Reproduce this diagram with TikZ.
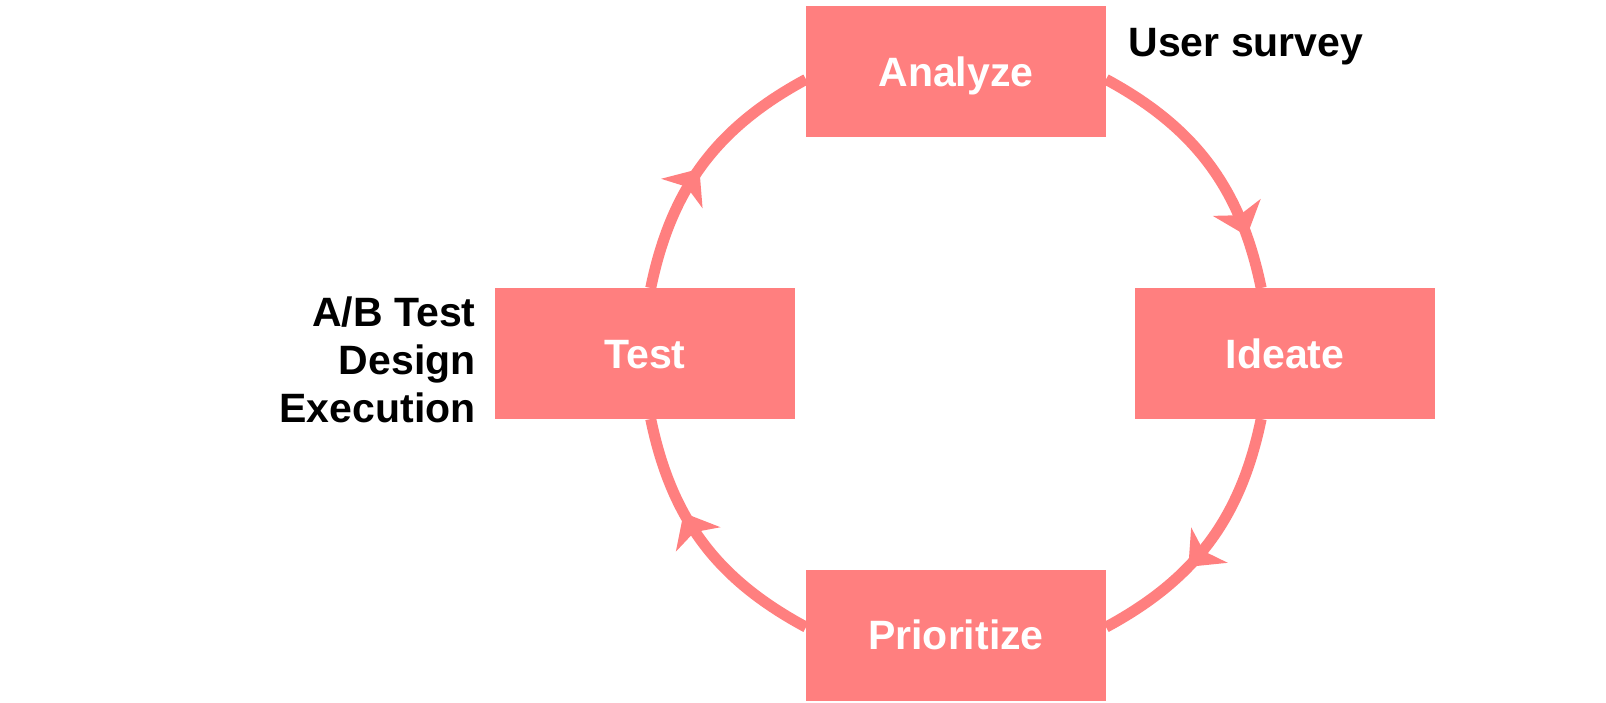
\documentclass[tikz,border=0pt]{standalone}
\usepackage{fontspec}
\setmainfont{Liberation Sans}
\usetikzlibrary{arrows.meta,decorations.markings,positioning}
\definecolor{salmon}{HTML}{FF7F7F}
\tikzset{>={Stealth[length=15pt,width=25pt,inset=4pt]}}
\tikzset{%
    arrowat/.style={postaction={decorate},decoration={%
            markings,mark=at position #1 with {\arrow{>}}%
        }%
    },%
    arrowat/.default=.5%
}
\tikzset{stage/.style={fill=salmon, text=white, minimum width=150pt, minimum height=65.5pt,
    inner sep=0pt, outer sep=0pt, text height=14.7pt, text depth=0pt,
    font=\fontsize{20.5}{24}\selectfont\bfseries}}
\tikzset{note/.style={inner sep=0pt, font=\fontsize{20.5}{24}\selectfont\bfseries}}

\begin{document}
\begin{tikzpicture}[x=0.5pt,y=0.5pt,line width=5.5pt]
      \useasboundingbox (0,0) rectangle (1606,702);
      \node[stage] (analyze) at (956,630.5) {Analyze};
      \node[stage] (ideate) at (1285,348.5) {Ideate};
      \node[stage] (prioritize) at (956,67) {Prioritize};
      \node[stage] (test) at (645,348.5) {Test};
      \draw[salmon,arrowat=.8] (analyze.-3) to[bend left=25] (ideate.110);
      \draw[salmon,arrowat=.62] (ideate.250) to[bend left=25] (prioritize.3);
      \draw[salmon,arrowat=.63] (prioritize.177) to[bend left=25] (test.275);
      \draw[salmon,arrowat=.48] (test.85) to[bend left=25] (analyze.183);
      \node[note,anchor=base west] (survey) at (1123,645) {User survey};
      \node[note,align=right,anchor=base east] (abtest) at (481,279) {A/B Test\\Design\\Execution};
    \end{tikzpicture}
\end{document}
